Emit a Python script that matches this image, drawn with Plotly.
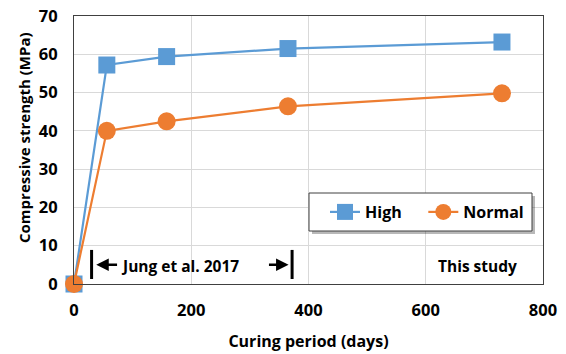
import plotly.graph_objects as go

# Curing period (days) and compressive strength (MPa)
days = [0, 56, 158, 365, 730]
high = [0, 57.2, 59.4, 61.5, 63.2]
normal = [0, 40.0, 42.5, 46.4, 49.8]

x_ticks = [0, 200, 400, 600, 800]
y_ticks = [0, 10, 20, 30, 40, 50, 60, 70]

BLUE = "#5B9BD5"
ORANGE = "#ED7D31"
FONT = "Open Sans"

# plot-area geometry in pixels
W, H = 566, 354
L, R, T, B = 74, 23, 16, 70
PW, PH = W - L - R, H - T - B


def px(xp):
    return (xp - L) / PW


def py(yp):
    return (H - B - yp) / PH


fig = go.Figure()
fig.add_trace(go.Scatter(
    x=days, y=high, name="<b>High</b>&nbsp;&nbsp;&nbsp;&nbsp;", mode="lines+markers",
    line=dict(color=BLUE, width=2.2),
    marker=dict(symbol="square", size=17, color=BLUE),
    cliponaxis=False,
))
fig.add_trace(go.Scatter(
    x=days, y=normal, name="<b>Normal</b>", mode="lines+markers",
    line=dict(color=ORANGE, width=2.2),
    marker=dict(symbol="circle", size=18, color=ORANGE),
    cliponaxis=False,
))

# range bars for the earlier study
for xb in [30, 372]:
    fig.add_shape(type="line", xref="x", yref="y", x0=xb, x1=xb, y0=1.3, y1=8.9,
                  line=dict(color="black", width=3))

# arrows either side of the label
fig.add_annotation(x=38, y=5.0, ax=76, ay=5.0, xref="x", yref="y", axref="x", ayref="y",
                   text="", showarrow=True, arrowhead=2, arrowsize=1, arrowwidth=2.5,
                   arrowcolor="black")
fig.add_annotation(x=366, y=5.0, ax=330, ay=5.0, xref="x", yref="y", axref="x", ayref="y",
                   text="", showarrow=True, arrowhead=2, arrowsize=1, arrowwidth=2.5,
                   arrowcolor="black")
fig.add_annotation(x=180, y=4.6, xref="x", yref="y", text="<b>Jung et al. 2017</b>",
                   showarrow=False, font=dict(family=FONT, size=15.5, color="black"))
fig.add_annotation(x=688, y=4.8, xref="x", yref="y", text="<b>This study</b>",
                   showarrow=False, font=dict(family=FONT, size=15.5, color="black"))

# y-axis title
fig.add_annotation(x=px(24), y=py(138), xref="paper", yref="paper", textangle=-90,
                   xanchor="center", yanchor="middle",
                   text="<b>Compressive strength (MPa)</b>", showarrow=False,
                   font=dict(family=FONT, size=15, color="black"))

# legend frame with drop shadow
fig.add_shape(type="rect", xref="paper", yref="paper",
              x0=px(312), x1=px(535), y0=py(234), y1=py(196),
              fillcolor="rgba(0,0,0,0.28)", line=dict(width=0), layer="above")
fig.add_shape(type="rect", xref="paper", yref="paper",
              x0=px(309), x1=px(532), y0=py(231), y1=py(193),
              fillcolor="white", line=dict(color="#404040", width=1), layer="above")

axis_common = dict(
    showgrid=True, gridcolor="#D9D9D9", gridwidth=1,
    showline=True, linecolor="#404040", linewidth=1, mirror=True,
    zeroline=False, ticks="", automargin=False,
    tickfont=dict(family=FONT, size=16.5, color="black"),
)

fig.update_layout(
    width=W, height=H,
    margin=dict(l=L, r=R, t=T, b=B, autoexpand=False),
    plot_bgcolor="white", paper_bgcolor="white",
    showlegend=True,
    legend=dict(
        x=px(325), y=py(212), xanchor="left", yanchor="middle",
        orientation="h", bgcolor="rgba(0,0,0,0)", borderwidth=0,
        font=dict(family=FONT, size=16, color="black"),
    ),
    xaxis=dict(range=[0, 800], tickvals=x_ticks,
               ticktext=[f"<b>{v}</b>" for v in x_ticks],
               ticklabelstandoff=11,
               title=dict(text="<b>Curing period (days)</b>",
                          font=dict(family=FONT, size=16, color="black"), standoff=16),
               **axis_common),
    yaxis=dict(range=[0, 70], tickvals=y_ticks,
               ticktext=[f"<b>{v}</b>" for v in y_ticks],
               ticklabelstandoff=12,
               **axis_common),
)

fig.write_html("out.html")
